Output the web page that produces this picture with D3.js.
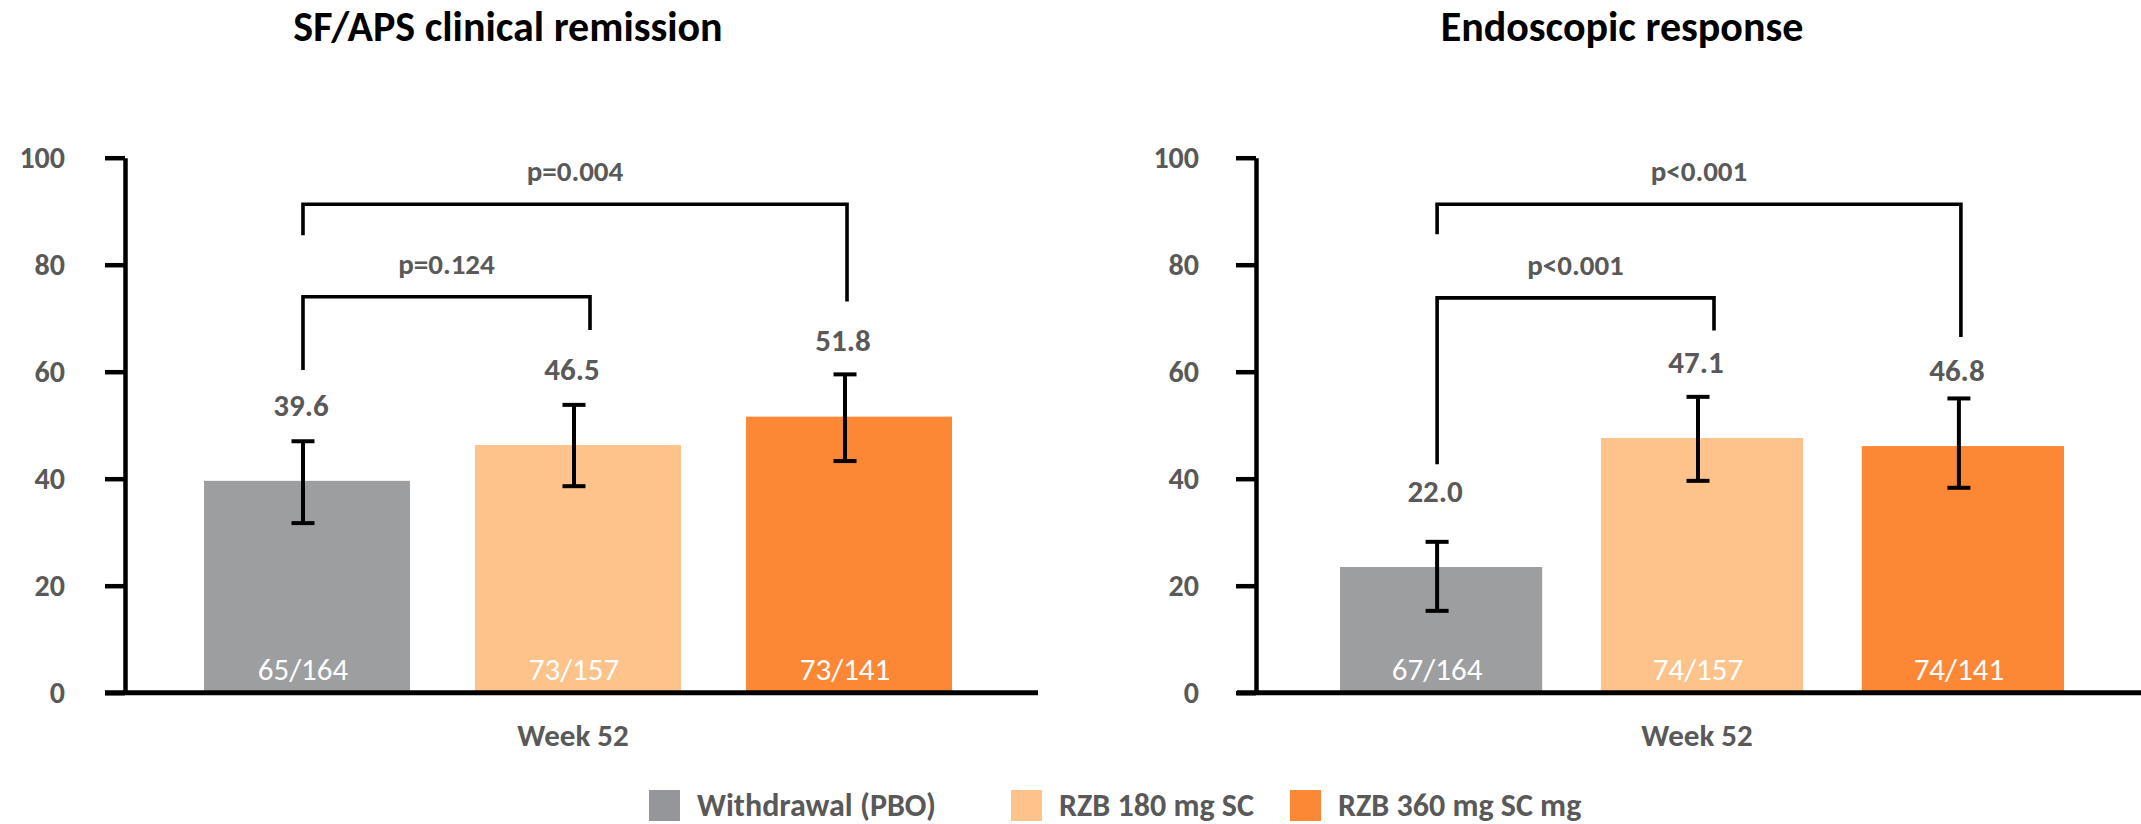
<!DOCTYPE html>
<html>
<head>
<meta charset="utf-8">
<script src="https://cdn.jsdelivr.net/npm/d3@7"></script>
<style>
  body { margin: 0; background: #fff; }
  svg text { font-family: Carlito, Calibri, Lato, sans-serif; }
</style>
</head>
<body>
<svg id="chart" width="2141" height="824"></svg>
<script>
// groups shared by both panels
const groups = ['Withdrawal (PBO)', 'RZB 180 mg SC', 'RZB 360 mg SC mg'];
const barColors = ['#9d9ea0', '#fdc38a', '#fc8835'];
const legendColors = ['#959699', '#fdc38a', '#fc8835'];
const yTicks = [0, 20, 40, 60, 80, 100];
const xLabel = 'Week 52';

// SF/APS clinical remission
const remissionTitle = 'SF/APS clinical remission';
const remissionValues = [39.6, 46.3, 51.6];
const remissionLabels = ['39.6', '46.5', '51.8'];
const remissionLow = [31.7, 38.6, 43.3];
const remissionHigh = [47.0, 53.8, 59.5];
const remissionCounts = ['65/164', '73/157', '73/141'];
const remissionBrackets = [
    { from: 0, to: 1, level: 74.0, fromEnd: 60.3, toEnd: 67.8, label: 'p=0.124' },
    { from: 0, to: 2, level: 91.3, fromEnd: 85.5, toEnd: 73.1, label: 'p=0.004' }
];

// Endoscopic response
const endoTitle = 'Endoscopic response';
const endoValues = [23.5, 47.6, 46.1];
const endoLabels = ['22.0', '47.1', '46.8'];
const endoLow = [15.3, 39.6, 38.3];
const endoHigh = [28.2, 55.3, 55.0];
const endoCounts = ['67/164', '74/157', '74/141'];
const endoBrackets = [
    { from: 0, to: 1, level: 73.8, fromEnd: 42.7, toEnd: 67.7, label: 'p<0.001' },
    { from: 0, to: 2, level: 91.3, fromEnd: 85.7, toEnd: 66.5, label: 'p<0.001' }
];

const textGray = '#595959';
const svg = d3.select('#chart');

const y = d3.scaleLinear().domain([0, 100]).range([692.7, 157.7]);

const panels = [
    {
        title: remissionTitle, values: remissionValues, labels: remissionLabels,
        low: remissionLow, high: remissionHigh, counts: remissionCounts, brackets: remissionBrackets,
        axisX: 125, xStart: 105, xEnd: 1038, barRange: [204, 952], padInner: 0.24, tickPad: 40,
        titleX: 508
    },
    {
        title: endoTitle, values: endoValues, labels: endoLabels,
        low: endoLow, high: endoHigh, counts: endoCounts, brackets: endoBrackets,
        axisX: 1256, xStart: 1237, xEnd: 2141, barRange: [1340, 2064], padInner: 0.225, tickPad: 37,
        titleX: 1622
    }
];

panels.forEach(p => {
    const g = svg.append('g');
    const x = d3.scaleBand().domain(groups).range(p.barRange).paddingInner(p.padInner).paddingOuter(0);
    const cx = i => x(groups[i]) + x.bandwidth() / 2;

    // title
    g.append('text')
        .attr('x', p.titleX).attr('y', 41)
        .attr('text-anchor', 'middle')
        .attr('font-size', 42).attr('font-weight', 700).attr('fill', '#000')
        .text(p.title);

    // bars
    g.selectAll('rect.bar')
        .data(p.values)
        .enter()
        .append('rect')
        .classed('bar', true)
        .attr('x', (d, i) => x(groups[i]))
        .attr('width', x.bandwidth())
        .attr('y', d => y(d))
        .attr('height', d => y(0) - y(d))
        .attr('fill', (d, i) => barColors[i]);

    // n/N inside bars
    g.selectAll('text.count')
        .data(p.counts)
        .enter()
        .append('text')
        .classed('count', true)
        .attr('x', (d, i) => cx(i) - 4)
        .attr('y', y(0) - 13)
        .attr('text-anchor', 'middle')
        .attr('font-size', 31).attr('fill', '#fff')
        .text(d => d);

    // error bars
    const err = g.selectAll('g.err')
        .data(p.values.map((v, i) => ({ i, lo: p.low[i], hi: p.high[i] })))
        .enter()
        .append('g')
        .classed('err', true)
        .attr('stroke', '#000').attr('stroke-width', 4);
    err.append('line')
        .attr('x1', d => cx(d.i) - 4).attr('x2', d => cx(d.i) - 4)
        .attr('y1', d => y(d.lo)).attr('y2', d => y(d.hi));
    err.append('line')
        .attr('x1', d => cx(d.i) - 15.5).attr('x2', d => cx(d.i) + 7.5)
        .attr('y1', d => y(d.lo)).attr('y2', d => y(d.lo));
    err.append('line')
        .attr('x1', d => cx(d.i) - 15.5).attr('x2', d => cx(d.i) + 7.5)
        .attr('y1', d => y(d.hi)).attr('y2', d => y(d.hi));

    // value labels
    g.selectAll('text.val')
        .data(p.labels)
        .enter()
        .append('text')
        .classed('val', true)
        .attr('x', (d, i) => cx(i) - 6)
        .attr('y', (d, i) => y(p.values[i] + 12.2))
        .attr('text-anchor', 'middle')
        .attr('font-size', 31).attr('font-weight', 700).attr('fill', textGray)
        .text(d => d);

    // significance brackets
    p.brackets.forEach(b => {
        const x1 = cx(b.from) - 4;
        const x2 = b.to === 1 ? cx(b.to) + 12 : cx(b.to) - 2;
        g.append('path')
            .attr('d', `M${x1},${y(b.fromEnd)}V${y(b.level)}H${x2}V${y(b.toEnd)}`)
            .attr('fill', 'none').attr('stroke', '#000').attr('stroke-width', 3.6);
        g.append('text')
            .attr('x', (x1 + x2) / 2).attr('y', y(b.level) - 23)
            .attr('text-anchor', 'middle')
            .attr('font-size', 29).attr('font-weight', 700).attr('fill', textGray)
            .text(b.label);
    });

    // y axis
    const yAxis = d3.axisLeft(y).tickValues(yTicks).tickSize(20).tickSizeOuter(0).tickPadding(p.tickPad);
    const ya = g.append('g')
        .attr('transform', `translate(${p.axisX},0)`)
        .call(yAxis);
    ya.select('.domain').attr('stroke', '#000').attr('stroke-width', 4.5);
    ya.selectAll('.tick line').attr('stroke', '#000').attr('stroke-width', 4.5);
    ya.selectAll('.tick text')
        .attr('font-size', 30).attr('font-weight', 700).attr('fill', textGray);

    // x axis baseline
    g.append('line')
        .attr('x1', p.xStart).attr('x2', p.xEnd)
        .attr('y1', y(0)).attr('y2', y(0))
        .attr('stroke', '#000').attr('stroke-width', 5);

    // x label
    g.append('text')
        .attr('x', cx(1) - 5).attr('y', 746)
        .attr('text-anchor', 'middle')
        .attr('font-size', 31).attr('font-weight', 700).attr('fill', textGray)
        .text(xLabel);
});

// legend
const legendX = [649, 1011, 1290];
const legend = svg.selectAll('g.legend')
    .data(groups)
    .enter()
    .append('g')
    .classed('legend', true)
    .attr('transform', (d, i) => `translate(${legendX[i]},790)`);
legend.append('rect')
    .attr('width', 31).attr('height', 31)
    .attr('fill', (d, i) => legendColors[i]);
legend.append('text')
    .attr('x', 48).attr('y', 26)
    .attr('font-size', 32).attr('font-weight', 700).attr('fill', textGray)
    .text(d => d);
</script>
</body>
</html>
